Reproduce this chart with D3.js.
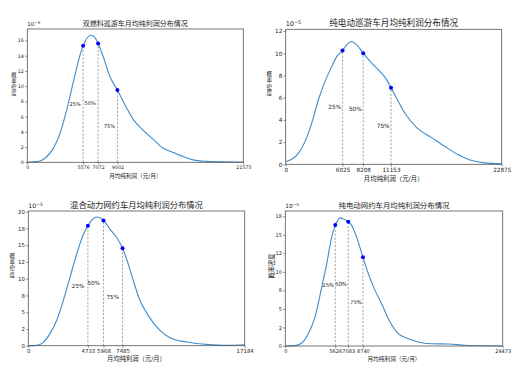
<!DOCTYPE html>
<html><head><meta charset="utf-8">
<script src="https://cdn.jsdelivr.net/npm/d3@7"></script>
<style>
html,body{margin:0;padding:0;background:#fff;}
svg text{font-family:'DejaVu Sans','Noto Sans CJK SC',sans-serif;fill:#222;}
</style></head>
<body>
<svg id="chart" width="530" height="374"></svg>
<script>
// ---------- data ----------
const titles = ["双燃料巡游车月均纯利润分布情况","纯电动巡游车月均纯利润分布情况","混合动力网约车月均纯利润分布情况","纯电动网约车月均纯利润分布情况"];
const xLabel = "月均纯利润（元/月）";
const yLabel = "概率密度";
const pctLabels = ["25%","50%","75%"];
const xMax = [21575, 22875, 17184, 24473];
const yMax = [17.5, 12.15, 20.1, 18.2];
const quartiles = [[5576,7072,9002],[6025,8208,11153],[4733,5968,7485],[5626,7083,8740]];
const quartileDensity = [[15.3,15.6,9.5],[10.25,10.0,6.9],[17.9,18.7,14.55],[16.3,16.75,11.95]];

const yTicks1 = [0,2,4,6,8,10,12,14,16];
const yTickLabels1 = ["0","2","4","6","8","10","12","14","16"];
const yTicks2 = [0,2,4,6,8,10,12];
const yTickLabels2 = ["0","2","4","6","8","10","12"];
const yTicks3 = [0,2.5,5,7.5,10,12.5,15,17.5,20];
const yTickLabels3 = ["0","2","5","8","10","12","15","18","20"];
const yTicks4 = [0,2.5,5,7.5,10,12.5,15,17.5];
const yTickLabels4 = ["0","2","5","8","10","12","15","18"];

const curve1X = [0,700,1270,1940,2600,3270,3930,4600,5265,5576,5930,6330,6760,7072,7590,8260,9002,9930,10590,11590,12590,13590,14590,15580,16580,17920,19500,21575];
const curve1Y = [0.03,0.06,0.17,0.73,1.83,3.8,6.85,10.56,14.06,15.3,16.25,16.68,16.38,15.6,13.84,11.22,9.5,7.1,5.6,4.2,3.0,1.85,1.3,0.75,0.32,0.12,0.05,0.03];
const curve2X = [0,635,1340,2045,2750,3455,4160,4870,5400,6025,6460,6990,7520,8208,9110,9990,10700,11153,12630,13870,15460,16870,18280,19520,21000,22875];
const curve2Y = [0.23,0.45,0.99,2.04,3.69,5.79,7.44,8.79,9.69,10.25,10.75,11.05,10.75,10.0,9.1,8.34,7.6,6.9,4.6,3.3,2.4,1.6,0.85,0.38,0.13,0.04];
const curve3X = [0,660,1190,1720,2250,2780,3310,3840,4370,4733,5030,5430,5968,6490,7020,7485,7940,8340,8870,9400,9930,10460,11250,12580,14170,15760,17184];
const curve3Y = [0,0.05,0.5,1.8,3.77,6.74,10.2,13.66,16.6,17.9,18.7,19.2,18.7,17.37,16.14,14.55,12.18,9.7,6.74,4.9,3.4,2.3,1.2,0.55,0.2,0.05,0.15];
const curve4X = [0,1090,1850,2590,3340,4100,4660,5220,5626,5790,6160,6530,7083,7470,8030,8740,9350,10100,10850,11600,12720,13850,14970,16480,18350,20230,22480,24473];
const curve4Y = [0,0.05,0.4,1.66,3.9,7.94,11.08,14.67,16.3,16.7,17.27,17.13,16.75,16.24,14.67,11.95,9.73,7.5,5.69,3.67,1.66,0.98,0.54,0.31,0.27,0.1,0.03,0.0];

const curvesX = [curve1X, curve2X, curve3X, curve4X];
const curvesY = [curve1Y, curve2Y, curve3Y, curve4Y];
const yTicks = [yTicks1, yTicks2, yTicks3, yTicks4];
const yTickLabels = [yTickLabels1, yTickLabels2, yTickLabels3, yTickLabels4];

// ---------- layout (positions / styles only) ----------
const layout = [
  {l:27.3, t:29,   r:243.3, b:162.3, fTitle:7,   fTick:4.8, fLab:5.6, fY:5.3, fPct:5,   xlabDy:15.4, ylabX:14,   ylabY0:74.5,  ylabStep:6.2, ylabRot:false, pctShift:800},
  {l:285.7,t:29.3, r:501.7, b:164.3, fTitle:8.6, fTick:5.7, fLab:6.4, fY:5.6, fPct:5.8, xlabDy:17,   ylabX:269.3,ylabY0:73.5,  ylabStep:6.5, ylabRot:false, pctShift:830},
  {l:28.3, t:211,  r:244.7, b:345.7, fTitle:8.3, fTick:5.4, fLab:6.3, fY:5.5, fPct:5.6, xlabDy:15.6, ylabX:12.3, ylabY0:255.5, ylabStep:6.4, ylabRot:false, pctShift:780},
  {l:285.3,t:211,  r:502.7, b:346,   fTitle:7.4, fTick:5.0, fLab:5.7, fY:6.3, fPct:5.3, xlabDy:15,   ylabX:271,  ylabY0:266,   ylabStep:0,   ylabRot:true,  pctShift:790}
];

const svg = d3.select("#chart");

layout.forEach((L, i) => {
  const g = svg.append("g");
  const x = d3.scaleLinear().domain([0, xMax[i]]).range([L.l, L.r]);
  const y = d3.scaleLinear().domain([0, yMax[i]]).range([L.b, L.t]);

  // dashed quartile lines + percent labels
  quartiles[i].forEach((q, k) => {
    g.append("line")
      .attr("x1", x(q)).attr("x2", x(q))
      .attr("y1", y(0)).attr("y2", y(quartileDensity[i][k]))
      .attr("stroke", "#7f7f7f").attr("stroke-width", 0.7)
      .attr("stroke-dasharray", "2.2,1.6");
    g.append("text")
      .attr("x", x(q - L.pctShift)).attr("y", y(quartileDensity[i][k] / 2))
      .attr("dy", "0.35em").attr("text-anchor", "middle")
      .attr("font-size", L.fPct).text(pctLabels[k]);
  });

  // density curve
  const pts = curvesX[i].map((v, j) => [v, curvesY[i][j]]);
  g.append("path")
    .datum(pts)
    .attr("fill", "none").attr("stroke", "#3d8ccc").attr("stroke-width", 1.1)
    .attr("d", d3.line().x(d => x(d[0])).y(d => y(d[1])).curve(d3.curveMonotoneX));

  // quartile points
  quartiles[i].forEach((q, k) => {
    g.append("circle")
      .attr("cx", x(q)).attr("cy", y(quartileDensity[i][k])).attr("r", 2)
      .attr("fill", "#0000ff");
  });

  // frame
  g.append("rect")
    .attr("x", L.l).attr("y", L.t).attr("width", L.r - L.l).attr("height", L.b - L.t)
    .attr("fill", "none").attr("stroke", "#555").attr("stroke-width", 0.8);

  // x axis
  const xa = g.append("g").attr("transform", `translate(0,${L.b})`)
    .call(d3.axisBottom(x).tickValues([0].concat(quartiles[i], [xMax[i]]))
      .tickFormat(d3.format("d")).tickSize(2.2).tickSizeOuter(0).tickPadding(1.2));
  xa.select(".domain").remove();
  xa.selectAll("line").attr("stroke", "#444").attr("stroke-width", 0.6);
  xa.selectAll("text").attr("font-size", L.fTick).attr("fill", "#222")
    .style("font-family", "'DejaVu Sans',sans-serif");

  // y axis
  const ya = g.append("g").attr("transform", `translate(${L.l},0)`)
    .call(d3.axisLeft(y).tickValues(yTicks[i])
      .tickFormat((d, j) => yTickLabels[i][j]).tickSize(2.2).tickSizeOuter(0).tickPadding(1.2));
  ya.select(".domain").remove();
  ya.selectAll("line").attr("stroke", "#444").attr("stroke-width", 0.6);
  ya.selectAll("text").attr("font-size", L.fTick).attr("fill", "#222")
    .style("font-family", "'DejaVu Sans',sans-serif");

  // title
  g.append("text").attr("x", (L.l + L.r) / 2).attr("y", L.t - 3)
    .attr("text-anchor", "middle").attr("font-size", L.fTitle).text(titles[i]);

  // offset text 10^-5
  const off = g.append("text").attr("x", L.l).attr("y", L.t - 3)
    .attr("font-size", L.fTick * 1.15);
  off.append("tspan").text("10");
  off.append("tspan").attr("dy", -L.fTick * 0.45).attr("font-size", L.fTick * 0.85).text("−5");

  // x label
  g.append("text").attr("x", (L.l + L.r) / 2).attr("y", L.b + L.xlabDy)
    .attr("text-anchor", "middle").attr("font-size", L.fLab).text(xLabel);

  // y label
  if (L.ylabRot) {
    g.append("text").attr("transform", `translate(${L.ylabX},${L.ylabY0}) rotate(-90)`)
      .attr("text-anchor", "middle").attr("dominant-baseline", "central")
      .attr("font-size", L.fY).text(yLabel);
  } else {
    yLabel.split("").forEach((ch, k) => {
      g.append("text").attr("x", L.ylabX).attr("y", L.ylabY0 + k * L.ylabStep)
        .attr("text-anchor", "middle").attr("dominant-baseline", "central")
        .attr("font-size", L.fY).text(ch);
    });
  }
});
</script>
</body></html>
